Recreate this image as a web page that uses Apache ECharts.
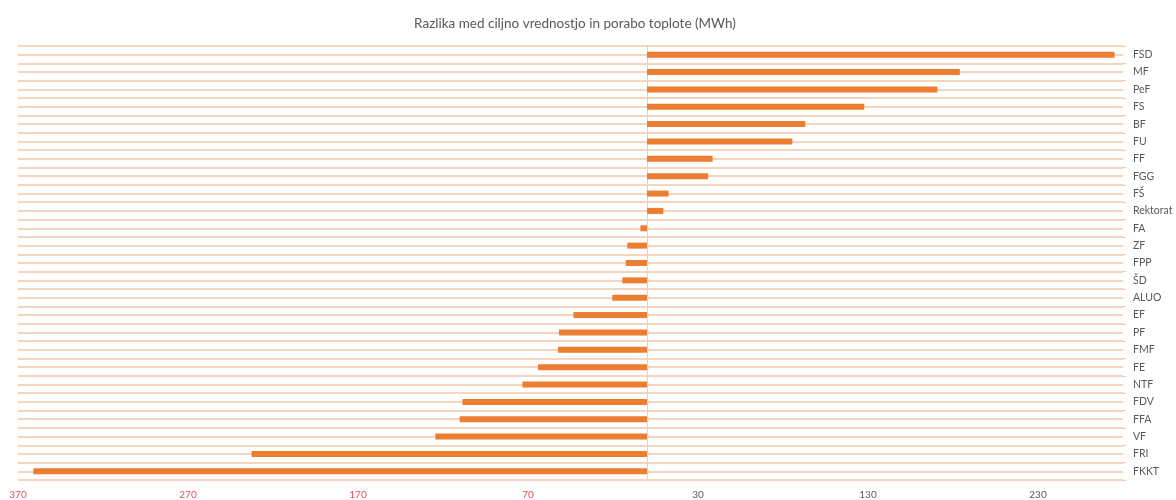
<!DOCTYPE html>
<html lang="sl" style="height: 100%">
<head>
  <meta charset="utf-8">
  <title>Razlika med ciljno vrednostjo in porabo toplote</title>
  <script type="text/javascript" src="https://fastly.jsdelivr.net/npm/echarts@6/dist/echarts.min.js"></script>
</head>
<body style="height: 100%; margin: 0; background: #fff">
  <div id="chart" style="width: 1176px; height: 500px"></div>

  <script type="text/javascript">
    // podatki (MWh), od zgoraj navzdol
    let fakultete = ['FSD', 'MF', 'PeF', 'FS', 'BF', 'FU', 'FF', 'FGG', 'FŠ', 'Rektorat',
      'FA', 'ZF', 'FPP', 'ŠD', 'ALUO', 'EF', 'PF', 'FMF', 'FE', 'NTF',
      'FDV', 'FFA', 'VF', 'FRI', 'FKKT'];
    let razlika = [275, 184, 170.8, 127.8, 93.1, 85.5, 38.6, 36, 12.7, 9.6,
      -3.9, -11.6, -12.5, -14.5, -20.4, -43.3, -51.8, -52.4, -64.1, -73.3,
      -108.6, -110.2, -124.5, -232.6, -361];

    let xMin = -370, xMax = 280, xStep = 100;

    var myChart = echarts.init(document.getElementById('chart'));

    let option = {
      backgroundColor: '#fff',
      title: {
        text: 'Razlika med ciljno vrednostjo in porabo toplote (MWh)',
        left: 570,
        top: 12,
        textAlign: 'center',
        textStyle: { fontFamily: 'Lato', fontSize: 13.5, fontWeight: 'normal', color: '#595959' }
      },
      grid: { left: 18, right: 53, top: 46, bottom: 20 },
      xAxis: {
        type: 'value',
        min: xMin,
        max: xMax,
        interval: xStep,
        axisLine: { show: false, onZero: false },
        axisTick: { show: false },
        splitLine: { show: false },
        axisLabel: {
          showMaxLabel: false,
          margin: 10,
          fontFamily: 'Lato',
          fontSize: 10,
          formatter: v => String(Math.abs(v)),
          color: v => (v < 0 ? '#e2505c' : '#595959')
        }
      },
      yAxis: [
        {
          type: 'category',
          data: fakultete,
          inverse: true,
          position: 'right',
          axisLine: { show: false, onZero: false },
          axisTick: { show: true, length: 3, lineStyle: { color: '#f3c8a8' } },
          splitLine: { show: false },
          axisLabel: { margin: 10, fontFamily: 'Lato', fontSize: 10.5, color: '#595959' }
        },
        {
          // pomožna os za vodoravne črte (po dve na kategorijo) in ničelno črto
          type: 'value',
          min: 0,
          max: fakultete.length * 2,
          interval: 1,
          position: 'left',
          axisLine: { show: true, onZero: true, lineStyle: { color: '#d4d4dc', width: 1 } },
          axisTick: { show: false },
          axisLabel: { show: false },
          splitLine: { show: true, lineStyle: { color: '#f7d5bc', width: 2 } }
        }
      ],
      series: [
        {
          name: 'Razlika',
          type: 'bar',
          yAxisIndex: 0,
          data: razlika,
          barWidth: 6,
          itemStyle: { color: '#ed7d31' },
          z: 3
        }
      ]
    };

    myChart.setOption(option);
  </script>
</body>
</html>
